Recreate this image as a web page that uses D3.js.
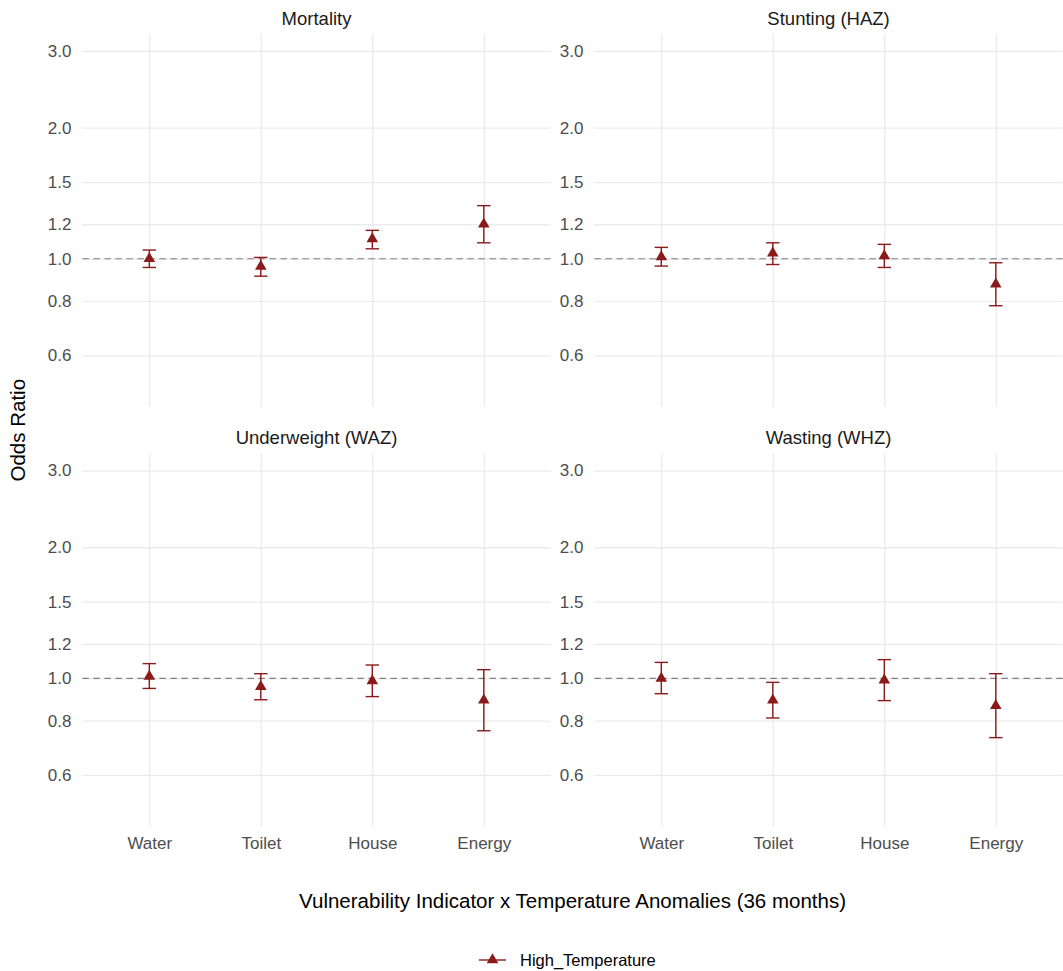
<!DOCTYPE html>
<html>
<head>
<meta charset="utf-8">
<script src="https://cdn.jsdelivr.net/npm/d3@7"></script>
<style>
  html, body { margin: 0; padding: 0; background: #fff; }
  svg { display: block; font-family: "Liberation Sans", Arial, sans-serif; }
  .grid line { stroke: #ebebeb; stroke-width: 1.3; }
  .grid path { display: none; }
  .axis path { display: none; }
  .axis text { fill: #4d4d4d; font-size: 17px; }
</style>
</head>
<body>
<svg id="chart"></svg>
<script>
// Data (odds ratios, 95% CI)
const categories = ['Water', 'Toilet', 'House', 'Energy'];
const outcomes = ['Mortality', 'Stunting (HAZ)', 'Underweight (WAZ)', 'Wasting (WHZ)'];

const estMortality = [1.00, 0.96, 1.11, 1.20];
const loMortality  = [0.955, 0.912, 1.054, 1.088];
const hiMortality  = [1.047, 1.007, 1.162, 1.324];

const estStunting = [1.01, 1.03, 1.015, 0.874];
const loStunting  = [0.962, 0.970, 0.955, 0.780];
const hiStunting  = [1.062, 1.088, 1.079, 0.979];

const estUnderweight = [1.01, 0.957, 0.987, 0.891];
const loUnderweight  = [0.948, 0.893, 0.908, 0.758];
const hiUnderweight  = [1.081, 1.025, 1.073, 1.047];

const estWasting = [1.00, 0.891, 0.99, 0.865];
const loWasting  = [0.922, 0.811, 0.889, 0.731];
const hiWasting  = [1.088, 0.979, 1.104, 1.025];

const yTicks = [0.6, 0.8, 1.0, 1.2, 1.5, 2.0, 3.0];
const yLimits = [0.5, 3];
const seriesName = 'High_Temperature';

const panelData = [
    { est: estMortality, lo: loMortality, hi: hiMortality },
    { est: estStunting, lo: loStunting, hi: hiStunting },
    { est: estUnderweight, lo: loUnderweight, hi: hiUnderweight },
    { est: estWasting, lo: loWasting, hi: hiWasting }
];

const width = 1063, height = 971;
const color = '#8b1a1a';
const panelW = 468.3, panelH = 372.8;
const panelLefts = [82.4, 594.4];
const panelTops = [34, 453.6];

const svg = d3.select('#chart')
    .attr('width', width)
    .attr('height', height);

// Scales (log y with ggplot-like 5% expansion)
const lnLo = Math.log(yLimits[0]), lnHi = Math.log(yLimits[1]);
const pad = 0.05 * (lnHi - lnLo);
const y = d3.scaleLog()
    .domain([Math.exp(lnLo - pad), Math.exp(lnHi + pad)])
    .range([panelH, 0]);

const x = d3.scalePoint()
    .domain(categories)
    .range([0, panelW])
    .padding(0.6);

const capHalf = x.step() * 0.06;
const tri = d3.symbol().type(d3.symbolTriangle).size(58);

outcomes.forEach((name, i) => {
    const col = i % 2, row = Math.floor(i / 2);
    const g = svg.append('g')
        .attr('transform', `translate(${panelLefts[col]},${panelTops[row]})`);
    const d = panelData[i];

    // Grid lines
    g.append('g')
        .attr('class', 'grid')
        .call(d3.axisLeft(y).tickValues(yTicks).tickSize(-panelW).tickFormat(''));
    g.append('g')
        .attr('class', 'grid')
        .attr('transform', `translate(0,${panelH})`)
        .call(d3.axisBottom(x).tickSize(panelH).tickFormat(''))
        .selectAll('line')
        .attr('y2', -panelH);

    // Y axis labels
    g.append('g')
        .attr('class', 'axis')
        .call(d3.axisLeft(y).tickValues(yTicks).tickSize(0).tickPadding(11).tickFormat(d3.format('.1f')));

    // X axis labels on bottom row only
    if (row === 1) {
        g.append('g')
            .attr('class', 'axis')
            .attr('transform', `translate(0,${panelH})`)
            .call(d3.axisBottom(x).tickSize(0).tickPadding(11));
    }

    // Reference line at OR = 1
    g.append('line')
        .attr('x1', 0).attr('x2', panelW)
        .attr('y1', y(1)).attr('y2', y(1))
        .attr('stroke', '#808080')
        .attr('stroke-width', 1.2)
        .attr('stroke-dasharray', '6.5,4.5');

    // Strip title
    g.append('text')
        .attr('x', panelW / 2)
        .attr('y', -9.5)
        .attr('text-anchor', 'middle')
        .style('font-size', '18.5px')
        .style('fill', '#1a1a1a')
        .text(name);

    // Error bars + points
    categories.forEach((c, j) => {
        const cx = x(c);
        g.append('line')
            .attr('x1', cx).attr('x2', cx)
            .attr('y1', y(d.lo[j])).attr('y2', y(d.hi[j]))
            .attr('stroke', color).attr('stroke-width', 1.4);
        [d.lo[j], d.hi[j]].forEach(v => {
            g.append('line')
                .attr('x1', cx - capHalf).attr('x2', cx + capHalf)
                .attr('y1', y(v)).attr('y2', y(v))
                .attr('stroke', color).attr('stroke-width', 1.4);
        });
        g.append('path')
            .attr('d', tri)
            .attr('transform', `translate(${cx},${y(d.est[j])})`)
            .attr('fill', color);
    });
});

// Axis titles
svg.append('text')
    .attr('transform', `translate(25,${panelTops[0] + (panelTops[1] + panelH - panelTops[0]) / 2}) rotate(-90)`)
    .attr('text-anchor', 'middle')
    .style('font-size', '20.5px')
    .style('fill', '#000')
    .text('Odds Ratio');

svg.append('text')
    .attr('x', (panelLefts[0] + panelLefts[1] + panelW) / 2)
    .attr('y', 908)
    .attr('text-anchor', 'middle')
    .style('font-size', '20.5px')
    .style('fill', '#000')
    .text('Vulnerability Indicator x Temperature Anomalies (36 months)');

// Legend
const legend = svg.append('g').attr('transform', 'translate(479,960)');
legend.append('line')
    .attr('x1', 0).attr('x2', 27)
    .attr('stroke', color).attr('stroke-width', 1.4);
legend.append('path')
    .attr('d', tri)
    .attr('transform', 'translate(13.5,0)')
    .attr('fill', color);
legend.append('text')
    .attr('x', 41)
    .attr('y', 6)
    .style('font-size', '16.5px')
    .style('fill', '#000')
    .text(seriesName);
</script>
</body>
</html>
